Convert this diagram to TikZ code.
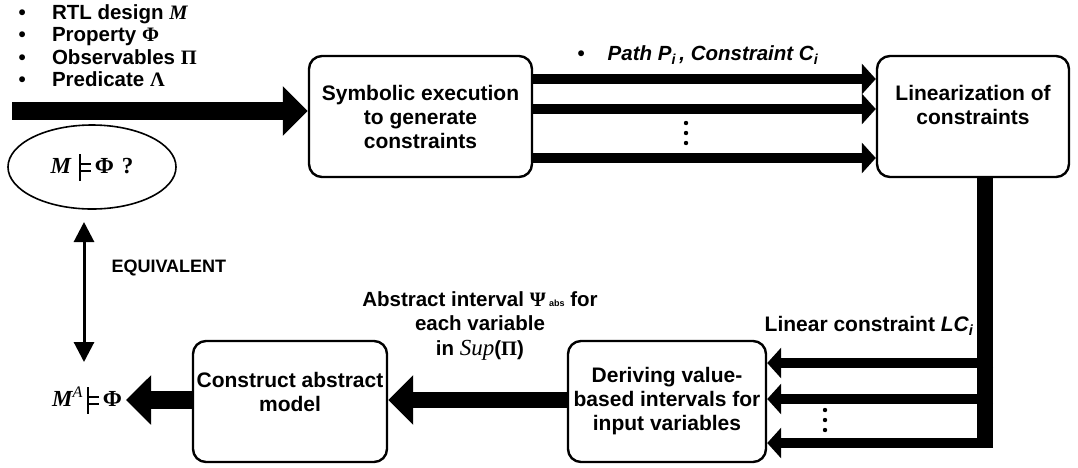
\documentclass[tikz,border=0pt]{standalone}
\usepackage{fontspec}
\setmainfont{Liberation Sans}
\newfontfamily\symfont{Liberation Serif}
\usetikzlibrary{arrows.meta,shapes.geometric,calc}
% turnstile drawn with rules: tall bar and two short strokes
\newcommand{\satis}{\mbox{\rule[-7pt]{1.8pt}{27pt}\raisebox{2pt}{\rule{10pt}{1.8pt}}\hspace{-10pt}\raisebox{9pt}{\rule{10pt}{1.8pt}}}}
\begin{document}
\begin{tikzpicture}[x=1pt,y=-1pt,
  txt/.style={font=\fontsize{21}{24}\selectfont\bfseries, align=center},
  procbox/.style={draw, line width=2.4pt, rounded corners=13pt},
  bigarrow/.style={line width=18pt, -{Triangle[length=25pt,width=48pt]}},
  pathlink/.style={line width=10pt, -{Triangle[length=14pt,width=30pt]}},
  equiv/.style={line width=3pt, {Triangle[length=20pt,width=20pt]}-{Triangle[length=20pt,width=20pt]}},
  mathlbl/.style={font=\fontsize{23}{24}\selectfont\bfseries},
]
\useasboundingbox (0,0) rectangle (1078,467);

% process boxes
\node[procbox, minimum width=223pt, minimum height=121pt] (sym) at (420.5,116.5) {};
\node[txt] at (sym.center) {Symbolic execution\\to generate\\constraints};
\node[procbox, minimum width=192pt, minimum height=121pt] (lin) at (973,116.5) {};
\node[txt] at (973,104.5) {Linearization of\\constraints};
\node[procbox, minimum width=198pt, minimum height=121pt] (der) at (667,401.5) {};
\node[txt] at (der.center) {Deriving value-\\based intervals for\\input variables};
\node[procbox, minimum width=194pt, minimum height=121pt] (con) at (290,401.5) {};
\node[txt] at (290,392) {Construct abstract\\model};

% inputs
\node[txt, align=left, anchor=west, font=\fontsize{20.5}{22.4}\selectfont\bfseries] (inputs) at (15,45.5)
 {\makebox[33.5pt][l]{•}RTL design {\symfont\itshape M}\\
  \makebox[33.5pt][l]{•}Property {\symfont Φ}\\
  \makebox[33.5pt][l]{•}Observables {\symfont Π}\\
  \makebox[33.5pt][l]{•}Predicate {\symfont Λ}};
\coordinate (instart) at (12,111);
\draw[bigarrow] (instart) -- (sym.west |- instart);

% paths between symbolic execution and linearization
\foreach \yy/\nm in {79/pa,109/pb,158/pc}{
  \coordinate (\nm) at (0,\yy);
  \draw[pathlink] (sym.east |- \nm) -- (lin.west |- \nm);
}
\node[txt, anchor=west, font=\fontsize{20.5}{24}\selectfont\bfseries] (pathlbl) at (574,55) {•\hspace{23pt}\itshape Path P\textsubscript{\itshape i}\,, Constraint C\textsubscript{\itshape i}};
\foreach \yy in {123,133,143} \fill (686,\yy) circle (2.2pt);

% linear constraints down to the interval derivation
\coordinate (bartop) at (985,178);
\coordinate (barbot) at (985,448);
\draw[line width=16pt] (lin.south -| bartop) -- (barbot);
\foreach \yy/\nm in {363/la,399/lb,443/lc}{
  \coordinate (\nm) at (993,\yy);
  \draw[pathlink] (\nm) -- (der.east |- \nm);
}
\foreach \yy in {410,420,430} \fill (825,\yy) circle (2.2pt);
\node[txt, anchor=east] (lclbl) at (977,326) {Linear constraint {\itshape LC}\textsubscript{\itshape i}};

% intervals to the abstract model
\coordinate (ia) at (0,400);
\draw[bigarrow, line width=16pt] (der.west |- ia) -- (con.east |- ia);
\node[txt, font=\fontsize{20.5}{24.5}\selectfont\bfseries] (intlbl) at (480,326) {Abstract interval {\symfont Ψ}\,{\fontsize{9}{9}\selectfont abs} for\\each variable\\in {\symfont\itshape\mdseries\fontsize{23}{24}\selectfont Sup}({\symfont Π})};

% abstract model and original check
\node[mathlbl, inner sep=4pt] (ma) at (87,400)
 {{\symfont\itshape M}\textsuperscript{\symfont\itshape\mdseries A}\hspace{4pt}\satis\hspace{4pt}{\symfont Φ}};
\draw[bigarrow] (con.west |- ia) -- (ma.east);
\node[draw, ellipse, line width=1.6pt, minimum width=168pt, minimum height=84pt,
      mathlbl] (query) at (92,167)
 {{\symfont\itshape M}\hspace{8pt}\satis\hspace{4pt}{\symfont Φ}\hspace{8pt}{\symfont ?}};
\coordinate (eqtop) at (84,222);
\coordinate (eqbot) at (84,362);
\draw[equiv] (eqtop) -- (eqbot);
\node[txt, anchor=west, font=\fontsize{18}{20}\selectfont\bfseries] (eqlbl) at (108,268) {EQUIVALENT};
\end{tikzpicture}
\end{document}
